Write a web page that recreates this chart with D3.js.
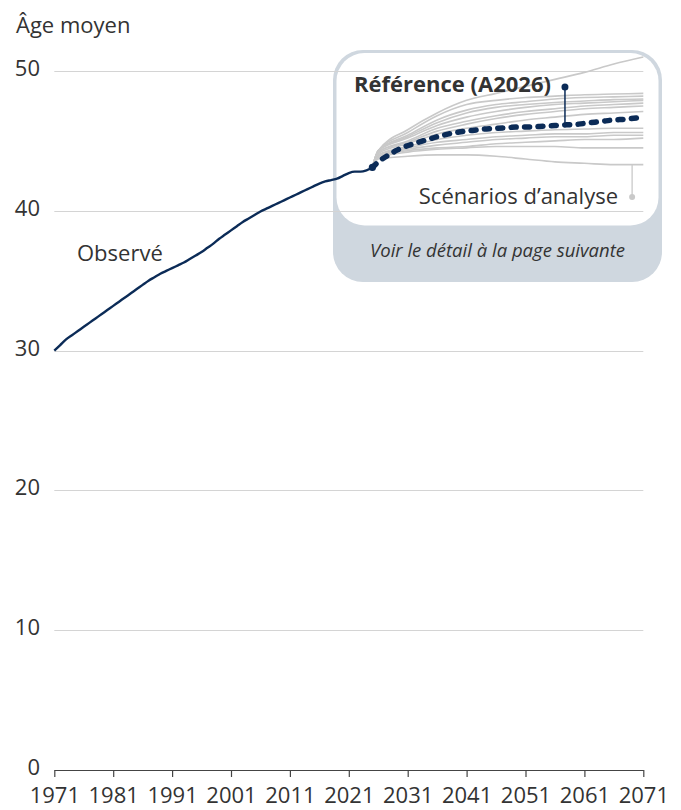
<!DOCTYPE html>
<html>
<head>
<meta charset="utf-8">
<script src="https://cdn.jsdelivr.net/npm/d3@7"></script>
<style>
  html, body { margin: 0; padding: 0; background: #fff; }
  svg { display: block; font-family: "Open Sans", sans-serif; }
</style>
</head>
<body>
<svg id="chart" width="681" height="810"></svg>
<script>
// ---------------- DATA ----------------
const xTicks = [1971, 1981, 1991, 2001, 2011, 2021, 2031, 2041, 2051, 2061, 2071];
const yTicks = [0, 10, 20, 30, 40, 50];

const obsYears = d3.range(1971, 2026);
const obsValues = [
  30.0, 30.4, 30.8, 31.1, 31.4, 31.7, 32.0, 32.3, 32.6, 32.9,
  33.2, 33.5, 33.8, 34.1, 34.4, 34.7, 35.0, 35.25, 35.5, 35.7,
  35.9, 36.1, 36.3, 36.55, 36.8, 37.05, 37.35, 37.65, 38.0, 38.3,
  38.6, 38.9, 39.2, 39.45, 39.7, 39.95, 40.15, 40.35, 40.55, 40.75,
  40.95, 41.15, 41.35, 41.55, 41.75, 41.95, 42.1, 42.2, 42.3, 42.5,
  42.7, 42.8, 42.8, 42.9, 43.1
];

const refYears = [2025, 2026, 2027, 2028, 2029, 2030, 2032, 2034, 2036, 2038, 2040, 2042, 2044, 2046, 2048, 2050, 2052, 2054, 2056, 2058, 2060, 2062, 2064, 2066, 2068, 2070, 2071];
const refValues = [43.1, 43.5, 43.8, 44.05, 44.3, 44.5, 44.8, 45.05, 45.3, 45.5, 45.65, 45.75, 45.85, 45.9, 45.95, 46.0, 46.0, 46.05, 46.1, 46.15, 46.2, 46.3, 46.4, 46.5, 46.55, 46.65, 46.7];

const scenYears = [2025, 2026, 2031, 2036, 2041, 2046, 2051, 2056, 2061, 2066, 2071];
const scen01 = [43.1, 44.3, 45.8, 47.0, 47.9, 48.4, 48.9, 49.4, 49.9, 50.5, 51.0];
const scen02 = [43.1, 44.3, 45.6, 46.8, 47.6, 47.9, 48.1, 48.2, 48.3, 48.35, 48.4];
const scen03 = [43.1, 44.3, 45.4, 46.5, 47.2, 47.6, 47.8, 48.0, 48.1, 48.15, 48.2];
const scen04 = [43.1, 44.3, 45.3, 46.3, 47.0, 47.4, 47.6, 47.75, 47.85, 47.95, 48.0];
const scen05 = [43.1, 44.3, 45.2, 46.1, 46.7, 47.1, 47.4, 47.6, 47.7, 47.8, 47.9];
const scen06 = [43.1, 44.2, 45.0, 45.9, 46.4, 46.8, 47.1, 47.3, 47.5, 47.6, 47.7];
const scen07 = [43.1, 44.2, 44.9, 45.7, 46.2, 46.6, 46.9, 47.1, 47.3, 47.4, 47.5];
const scen08 = [43.1, 44.1, 44.8, 45.5, 45.9, 46.2, 46.5, 46.7, 46.9, 47.0, 47.1];
const scen09 = [43.1, 44.0, 44.6, 45.1, 45.4, 45.6, 45.7, 45.8, 45.85, 45.9, 45.9];
const scen10 = [43.1, 44.0, 44.5, 44.9, 45.1, 45.3, 45.4, 45.5, 45.5, 45.6, 45.6];
const scen11 = [43.1, 43.9, 44.4, 44.7, 44.9, 45.1, 45.2, 45.3, 45.3, 45.4, 45.4];
const scen12 = [43.1, 43.9, 44.3, 44.5, 44.6, 44.8, 44.9, 45.0, 45.1, 45.1, 45.2];
const scen13 = [43.1, 43.8, 44.2, 44.4, 44.5, 44.6, 44.6, 44.6, 44.5, 44.5, 44.5];
const scen14 = [43.1, 43.7, 43.9, 44.0, 44.0, 43.9, 43.7, 43.5, 43.4, 43.3, 43.3];
const scenarios = [scen01, scen02, scen03, scen04, scen05, scen06, scen07, scen08, scen09, scen10, scen11, scen12, scen13, scen14];

const yTitle = "Âge moyen";
const labelObserved = "Observé";
const labelRef = "Référence (A2026)";
const labelScen = "Scénarios d’analyse";
const labelNote = "Voir le détail à la page suivante";
const refPointerYear = 2057.7;
const scenPointerYear = 2069.1;

// ---------------- CHART ----------------
const navy = "#0b2b57";
const grey = "#c9c9c9";
const textCol = "#333333";
const fs = 22;

const svg = d3.select("#chart");
const x = d3.scaleLinear().domain([1971, 2071]).range([54.3, 643.3]);
const y = d3.scaleLinear().domain([0, 50]).range([770, 71]);

// Box behind projections
const box = svg.append("g");
box.append("rect")
  .attr("x", 333).attr("y", 50).attr("width", 329).attr("height", 232)
  .attr("rx", 30).attr("fill", "#cfd7df");
box.append("rect")
  .attr("x", 336.5).attr("y", 53).attr("width", 322).attr("height", 172.5)
  .attr("rx", 28).attr("fill", "#ffffff");

// Gridlines
svg.append("g").selectAll("line")
  .data(yTicks.filter(d => d > 0))
  .join("line")
  .attr("x1", x(1971)).attr("x2", x(2071))
  .attr("y1", d => Math.round(y(d)) + 0.5).attr("y2", d => Math.round(y(d)) + 0.5)
  .attr("stroke", "#d4d4d4").attr("stroke-width", 1);

// Y labels
svg.append("g").selectAll("text")
  .data(yTicks)
  .join("text")
  .attr("x", 40).attr("y", d => y(d) + 5)
  .attr("text-anchor", "end")
  .attr("font-size", fs).attr("fill", textCol)
  .text(d => d);

// X axis
const xAxis = svg.append("g")
  .attr("transform", `translate(0,${Math.round(y(0))})`)
  .call(d3.axisBottom(x).tickValues(xTicks).tickFormat(d3.format("d")).tickSize(7).tickSizeOuter(0));
xAxis.select(".domain").attr("stroke", "#444").attr("stroke-width", 1.2);
xAxis.selectAll(".tick line").attr("stroke", "#444").attr("stroke-width", 1.2);
xAxis.selectAll(".tick text")
  .attr("y", 17).attr("dy", "0.71em")
  .attr("font-size", fs).attr("font-family", "Open Sans, sans-serif").attr("fill", textCol);

// Scenario lines
const scenLine = d3.line()
  .x((d, i) => x(scenYears[i]))
  .y(d => y(d))
  .curve(d3.curveMonotoneX);
svg.append("g").selectAll("path")
  .data(scenarios)
  .join("path")
  .attr("d", scenLine)
  .attr("fill", "none").attr("stroke", grey).attr("stroke-width", 1.6);

// Observed line
const obsLine = d3.line()
  .x((d, i) => x(obsYears[i]))
  .y(d => y(d))
  .curve(d3.curveMonotoneX);
svg.append("path")
  .attr("d", obsLine(obsValues))
  .attr("fill", "none").attr("stroke", navy).attr("stroke-width", 2.4)
  .attr("stroke-linejoin", "round");

// Reference dashed line
const refLine = d3.line()
  .x((d, i) => x(refYears[i]))
  .y(d => y(d))
  .curve(d3.curveMonotoneX);
svg.append("path")
  .attr("d", refLine(refValues))
  .attr("fill", "none").attr("stroke", navy).attr("stroke-width", 5.5)
  .attr("stroke-linecap", "round")
  .attr("stroke-dasharray", "5,8.4");

// Junction dot
svg.append("circle")
  .attr("cx", x(2025)).attr("cy", y(obsValues[obsValues.length - 1]))
  .attr("r", 3.6).attr("fill", navy);

// Reference pointer
const refInterp = d3.scaleLinear().domain(refYears).range(refValues);
const refPtrX = x(refPointerYear);
svg.append("line")
  .attr("x1", refPtrX).attr("x2", refPtrX)
  .attr("y1", 87).attr("y2", y(refInterp(refPointerYear)))
  .attr("stroke", navy).attr("stroke-width", 1.5);
svg.append("circle").attr("cx", refPtrX).attr("cy", 87).attr("r", 3.5).attr("fill", navy);

// Scenario pointer
const scenPtrX = x(scenPointerYear);
svg.append("line")
  .attr("x1", scenPtrX).attr("x2", scenPtrX)
  .attr("y1", y(d3.min(scenarios, s => s[s.length - 1]))).attr("y2", 197)
  .attr("stroke", grey).attr("stroke-width", 1.3);
svg.append("circle").attr("cx", scenPtrX).attr("cy", 197).attr("r", 3).attr("fill", grey);

// Texts
svg.append("text").attr("x", 16).attr("y", 33)
  .attr("font-size", fs).attr("fill", textCol).text(yTitle);
svg.append("text").attr("x", 77).attr("y", 261)
  .attr("font-size", fs).attr("fill", textCol).text(labelObserved);
svg.append("text").attr("x", 354).attr("y", 92)
  .attr("font-size", fs).attr("font-weight", 700).attr("fill", textCol).text(labelRef);
svg.append("text").attr("x", 618).attr("y", 204)
  .attr("text-anchor", "end")
  .attr("font-size", fs).attr("fill", textCol).text(labelScen);
svg.append("text").attr("x", 497.5).attr("y", 256.5)
  .attr("text-anchor", "middle")
  .attr("font-size", 18.5).attr("font-style", "italic").attr("fill", textCol).text(labelNote);
</script>
</body>
</html>
